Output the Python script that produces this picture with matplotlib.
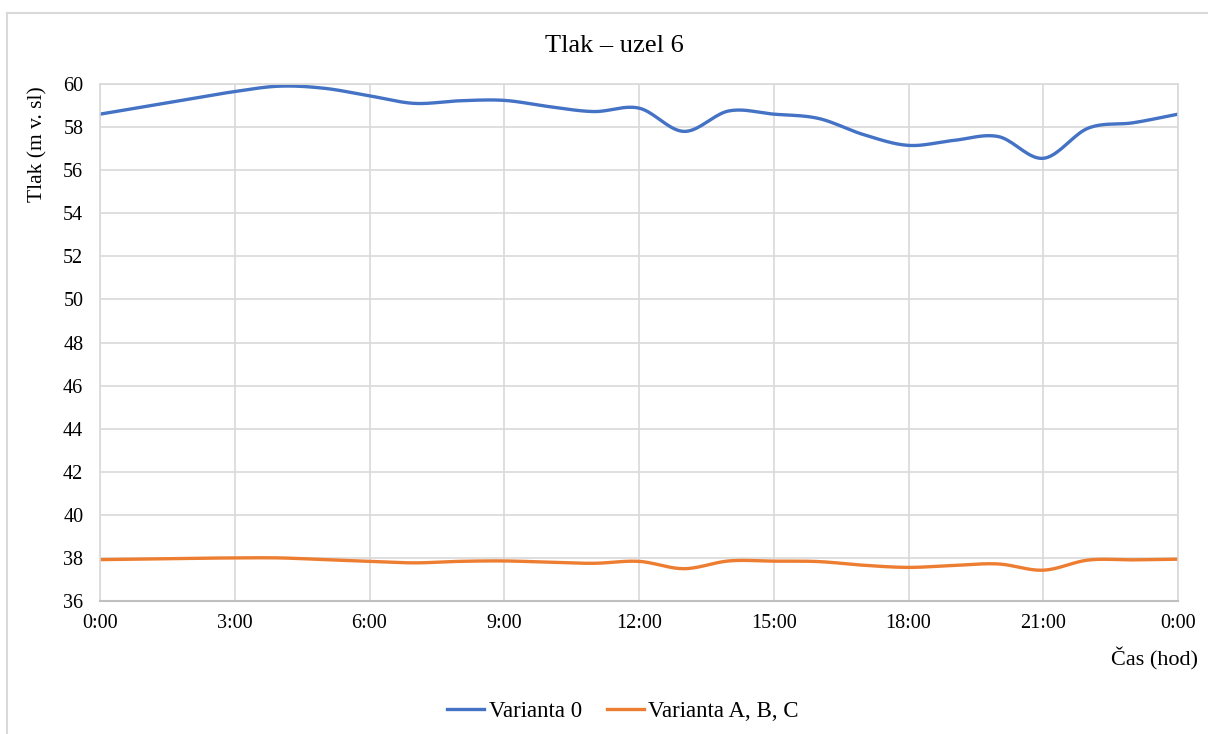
import numpy as np
import matplotlib
matplotlib.use("Agg")
import matplotlib.pyplot as plt
from matplotlib.lines import Line2D

# hodiny 0..24
hours = list(range(0, 25))
x_labels = ["0:00", "3:00", "6:00", "9:00", "12:00", "15:00", "18:00", "21:00", "0:00"]

varianta_0 = [58.6, 58.95, 59.3, 59.65, 59.9, 59.8, 59.45, 59.1, 59.22, 59.24,
              58.95, 58.72, 58.88, 57.8, 58.75, 58.6, 58.4, 57.65, 57.15, 57.38,
              57.56, 56.55, 57.95, 58.2, 58.6]
varianta_abc = [37.92, 37.95, 37.98, 38.0, 38.0, 37.92, 37.84, 37.77, 37.84, 37.86,
                37.8, 37.75, 37.84, 37.5, 37.86, 37.85, 37.83, 37.66, 37.56, 37.65,
                37.72, 37.43, 37.9, 37.91, 37.94]


def smooth(x, y, n=20):
    """Vyhlazena cara jako v Excelu (Catmull-Rom)."""
    x = np.asarray(x, float)
    y = np.asarray(y, float)
    px = np.concatenate([[2 * x[0] - x[1]], x, [2 * x[-1] - x[-2]]])
    py = np.concatenate([[2 * y[0] - y[1]], y, [2 * y[-1] - y[-2]]])
    xs, ys = [], []
    t = np.linspace(0, 1, n, endpoint=False)
    for i in range(1, len(px) - 2):
        for p, out in ((px, xs), (py, ys)):
            p0, p1, p2, p3 = p[i - 1], p[i], p[i + 1], p[i + 2]
            out.extend(0.5 * ((2 * p1) + (-p0 + p2) * t
                              + (2 * p0 - 5 * p1 + 4 * p2 - p3) * t ** 2
                              + (-p0 + 3 * p1 - 3 * p2 + p3) * t ** 3))
    xs.append(x[-1])
    ys.append(y[-1])
    return np.array(xs), np.array(ys)


plt.rcParams['font.family'] = ['Liberation Serif', 'DejaVu Serif']

blue = '#4472C4'
orange = '#ED7D31'

fig = plt.figure(figsize=(12.08, 7.34), dpi=100)
ax = fig.add_axes([100 / 1208, 1 - 601 / 734, 1078 / 1208, 517 / 734])

bx, by = smooth(hours, varianta_0)
ox, oy = smooth(hours, varianta_abc)
ax.plot(bx, by, color=blue, lw=2.4, solid_capstyle='round')
ax.plot(ox, oy, color=orange, lw=2.4, solid_capstyle='round')

ax.set_xlim(0, 24)
ax.set_ylim(36, 60)
ax.set_xticks(range(0, 25, 3))
ax.set_xticklabels(x_labels)
ax.set_yticks(range(36, 61, 2))
ax.tick_params(axis='both', length=0, labelsize=14.5, colors='black')
ax.tick_params(axis='x', pad=9)
ax.tick_params(axis='y', pad=12)
ax.grid(True, color='#d9d9d9', lw=1.2)
ax.set_axisbelow(True)
for s in ['top', 'right', 'left']:
    ax.spines[s].set_color('#d9d9d9')
    ax.spines[s].set_linewidth(1.2)
ax.spines['bottom'].set_color('#bfbfbf')
ax.spines['bottom'].set_linewidth(1.5)

fig.text(614 / 1208, 1 - 46 / 734, 'Tlak – uzel 6', ha='center', va='center', fontsize=19)
fig.text(38 / 1208, 1 - 144 / 734, 'Tlak (m v. sl)', rotation=90, ha='center', va='center', fontsize=15.5)
fig.text(1198 / 1208, 1 - 659 / 734, 'Čas (hod)', ha='right', va='center', fontsize=16)

handles = [Line2D([], [], color=blue, lw=2.4), Line2D([], [], color=orange, lw=2.4)]
fig.legend(handles, ['Varianta 0', 'Varianta A, B, C'], loc='center',
           bbox_to_anchor=(623 / 1208, 1 - 711 / 734), ncol=2, frameon=False,
           fontsize=16.5, handlelength=1.6, handletextpad=0.2, columnspacing=1.1)

# ramecek grafu
fig.add_artist(Line2D([7 / 1208, 7 / 1208], [0, 1 - 13 / 734], color='#d9d9d9', lw=1.5))
fig.add_artist(Line2D([7 / 1208, 1], [1 - 13 / 734, 1 - 13 / 734], color='#d9d9d9', lw=1.5))

fig.savefig('out.png', dpi=100)
